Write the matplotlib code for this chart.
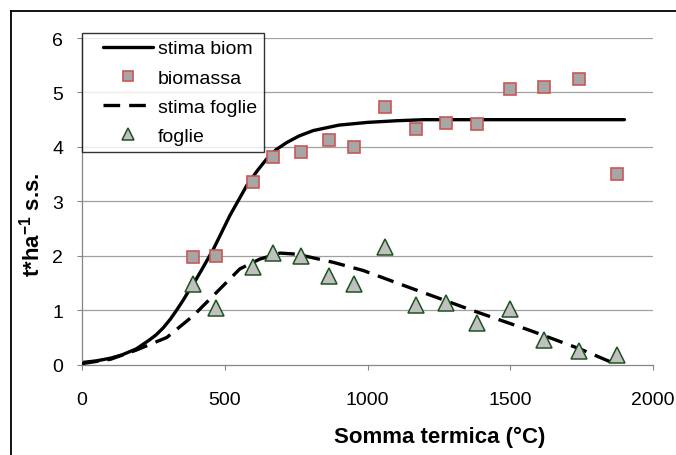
import matplotlib
matplotlib.use('Agg')
import matplotlib.pyplot as plt
from matplotlib.lines import Line2D
from matplotlib.legend_handler import HandlerLine2D

plt.rcParams['font.family'] = ['Liberation Sans', 'DejaVu Sans']
plt.rcParams['mathtext.default'] = 'regular'

# measured points
temp_obs = [388, 470, 598, 668, 766, 866, 954, 1062, 1169, 1276, 1384, 1500, 1618, 1741, 1873]
biomassa = [1.97, 1.99, 3.36, 3.82, 3.90, 4.13, 3.99, 4.73, 4.33, 4.44, 4.42, 5.07, 5.10, 5.25, 3.50]
foglie = [1.48, 1.04, 1.79, 2.05, 2.00, 1.62, 1.48, 2.16, 1.10, 1.14, 0.76, 1.03, 0.46, 0.26, 0.18]

# fitted curves
temp_biom = [0, 50, 100, 140, 190, 235, 260, 285, 310, 330, 355, 378, 400, 420, 460, 518,
             577, 615, 647, 680, 717, 760, 810, 900, 1000, 1100, 1200, 1400, 1600, 1900]
stima_biom = [0.04, 0.07, 0.12, 0.18, 0.29, 0.45, 0.55, 0.68, 0.84, 0.99, 1.19, 1.39, 1.57,
              1.75, 2.12, 2.74, 3.29, 3.57, 3.78, 3.95, 4.08, 4.20, 4.30, 4.40, 4.45, 4.48,
              4.50, 4.50, 4.50, 4.50]
temp_fogl = [0, 100, 191, 297, 390, 483, 553, 623, 694, 752, 880, 985, 1161, 1371, 1569, 1744, 1861]
stima_fogl = [0.02, 0.10, 0.27, 0.50, 0.90, 1.39, 1.76, 1.94, 2.05, 2.03, 1.88, 1.73, 1.39,
              0.99, 0.63, 0.29, 0.03]

xticks = [0, 500, 1000, 1500, 2000]
yticks = [0, 1, 2, 3, 4, 5, 6]

fig = plt.figure(figsize=(6.76, 4.56), dpi=100)
ax = fig.add_axes([82 / 676, 1 - 365.7 / 456, (653 - 82) / 676, (365.7 - 39) / 456])

grid_col = '#A0A0A0'
for y in yticks[1:]:
    ax.axhline(y, color=grid_col, lw=0.9, zorder=0)

ax.plot(temp_biom, stima_biom, color='black', lw=2.4, label='stima biom', zorder=2,
        solid_capstyle='round')
ax.plot(temp_obs, biomassa, ls='none', marker='s', ms=9, mfc='#A6A6A6', mec='#CC5555',
        mew=1.2, label='biomassa', zorder=3)
ax.plot(temp_fogl, stima_fogl, color='black', lw=2.4, ls=(0, (5, 2.7)), label='stima foglie',
        zorder=4)
ax.plot(temp_obs, foglie, ls='none', marker='^', ms=11, mfc='#C0C0C0', mec='#1E5220',
        mew=1.1, label='foglie', zorder=5)

ax.set_xlim(0, 2000)
ax.set_ylim(0, 6)
ax.set_xticks(xticks)
ax.set_yticks(yticks)
ax.tick_params(axis='x', direction='out', length=3.6, color='#868686', labelsize=14, pad=15)
ax.tick_params(axis='y', direction='out', length=3.6, color='#868686', labelsize=14, pad=10)
for s in ['top', 'right']:
    ax.spines[s].set_visible(False)
for s in ['left', 'bottom']:
    ax.spines[s].set_color('#868686')
    ax.spines[s].set_linewidth(0.9)

fig.text(440 / 676, 1 - 437 / 456, 'Somma termica (°C)', ha='center', va='center',
         fontsize=16, fontweight='bold')
fig.text(32 / 676, 1 - 225 / 456, r't*ha$^{-1}$ s.s.', ha='center', va='center',
         rotation=90, fontsize=16, fontweight='bold')

leg = ax.legend(loc='upper left', bbox_to_anchor=(82 / 676, 1 - 34 / 456),
                bbox_transform=fig.transFigure, fontsize=14, frameon=True, fancybox=False,
                edgecolor='black', borderaxespad=0, handlelength=3.3, handletextpad=0.25,
                labelspacing=0.6, borderpad=0.35, markerscale=0.85,
                handler_map={Line2D: HandlerLine2D(xpad=0.72)})
leg.get_frame().set_linewidth(1.0)
leg.set_zorder(10)

# outer chart border
fig.add_artist(Line2D([11 / 676, 11 / 676], [0, 1 - 12 / 456], color='black', lw=1.3))
fig.add_artist(Line2D([11 / 676, 1], [1 - 12 / 456, 1 - 12 / 456], color='black', lw=1.3))

fig.savefig('out.png', dpi=100)
